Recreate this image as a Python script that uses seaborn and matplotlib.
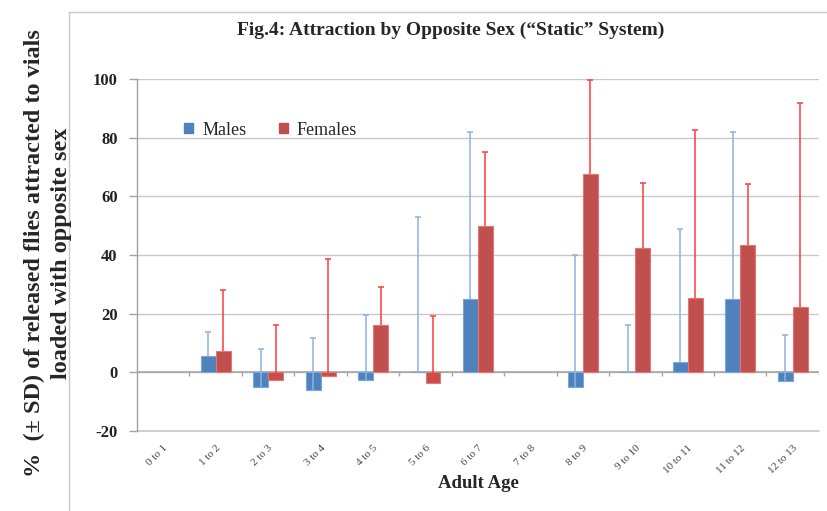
import numpy as np
import pandas as pd
import matplotlib
matplotlib.use("Agg")
import matplotlib.pyplot as plt
from matplotlib.lines import Line2D
import seaborn as sns

# Adult age intervals (days)
ages = ["0 to 1", "1 to 2", "2 to 3", "3 to 4", "4 to 5", "5 to 6", "6 to 7",
        "7 to 8", "8 to 9", "9 to 10", "10 to 11", "11 to 12", "12 to 13"]

# Mean % of released flies attracted (None = not tested)
males = [None, 5.7, -5.1, -5.9, -2.5, 0.0, 25.0, None, -5.1, 0.0, 3.5, 25.0, -3.1]
females = [None, 7.2, -2.5, -1.1, 16.0, -3.8, 50.0, None, 67.5, 42.5, 25.4, 43.3, 22.2]

# Standard deviations
males_sd = [None, 8.0, 13.0, 17.5, 22.0, 53.0, 57.0, None, 45.1, 16.0, 45.2, 57.0, 15.9]
females_sd = [None, 21.0, 18.8, 39.6, 13.1, 23.0, 25.0, None, 32.3, 22.0, 57.2, 20.8, 69.5]

series = ["Males", "Females"]
bar_colors = ["#4f81bd", "#c0504d"]
err_colors = ["#8db3e2", "#ff3b3b"]

df = pd.DataFrame({
    "age": ages * 2,
    "sex": [series[0]] * len(ages) + [series[1]] * len(ages),
    "value": [np.nan if v is None else v for v in males + females],
})

sns.set_theme(style="white")
plt.rcParams["font.family"] = ["Liberation Serif", "DejaVu Serif"]
plt.rcParams["axes.unicode_minus"] = False

fig = plt.figure(figsize=(8.28, 5.11), dpi=100)
ax = fig.add_axes([0.1655, 0.1566, 0.8235, 0.6888])

group_w = 0.57
sns.barplot(data=df, x="age", y="value", hue="sex", order=ages, hue_order=series,
            palette=bar_colors, width=group_w, errorbar=None, ax=ax,
            linewidth=0.8, edgecolor="white", saturation=1, zorder=2)

for p in ax.patches:
    fc = p.get_facecolor()
    p.set_edgecolor(tuple(min(1, c + 0.15) for c in fc[:3]) + (1,))

# Plus-only error bars in the style of the spreadsheet chart
offsets = [-group_w / 4, group_w / 4]
for vals, sds, off, col in zip([males, females], [males_sd, females_sd], offsets, err_colors):
    xs, lo, hi = [], [], []
    for i, (v, s) in enumerate(zip(vals, sds)):
        if v is None or s is None:
            continue
        xs.append(i + off)
        lo.append(v)
        hi.append(v + s)
    ax.vlines(xs, lo, hi, colors=col, linewidth=1.1, zorder=3)
    ax.plot(xs, hi, ls="none", marker="_", ms=5, mew=1.1, color=col, zorder=3)

ax.set_xlim(-0.5, len(ages) - 0.5)
ax.set_ylim(-20, 100)
ax.set_yticks(np.arange(-20, 101, 20))
ax.yaxis.grid(True, color="#c8c8c8", linewidth=1.0)
ax.axhline(-20, color="#c8c8c8", linewidth=1.2, clip_on=False, zorder=1)
ax.set_axisbelow(True)
for s in ["top", "right", "bottom"]:
    ax.spines[s].set_visible(False)
ax.spines["left"].set_color("#a0a0a0")
ax.spines["left"].set_linewidth(1.0)

# Category axis drawn along zero, with boundary ticks
ax.axhline(0, color="#a6a6a6", linewidth=1.2, zorder=1.5)
ax.vlines(np.arange(0.5, len(ages) - 0.5 + 1e-9, 1.0), -1.3, 0, colors="#a6a6a6",
          linewidth=1.0, zorder=1.5)

ax.tick_params(axis="y", which="both", left=True, length=6, width=1, color="#a0a0a0",
               labelsize=12, pad=8, labelcolor="#222222")
ax.tick_params(axis="x", length=0, pad=9)
ax.set_xticks(range(len(ages)))
ax.set_xticklabels(ages, rotation=45, ha="right", rotation_mode="anchor",
                   fontsize=8, color="#444444")
for lbl in ax.get_yticklabels():
    lbl.set_fontweight("bold")

ax.set_xlabel("Adult Age", fontsize=13.5, fontweight="bold", labelpad=0)
ax.set_ylabel("")

fig.text(0.544, 0.94, "Fig.4: Attraction by Opposite Sex (\u201cStatic\u201d System)",
         ha="center", va="center", fontsize=14, fontweight="bold")
fig.text(0.058, 0.505, "%  (\u00b1 SD) of released flies attracted to vials\nloaded with opposite sex",
         ha="center", va="center", rotation=90, fontsize=17.5, fontweight="bold",
         linespacing=1.35)

handles = [plt.Rectangle((0, 0), 1, 1, color=c) for c in bar_colors]
leg = ax.legend(handles, series, loc="upper left", bbox_to_anchor=(0.045, 0.925),
                ncol=2, frameon=False, fontsize=13, handlelength=0.5, handleheight=0.5,
                handletextpad=0.5, columnspacing=1.8)

# Chart-area border
fig.add_artist(Line2D([0.0833, 0.0833], [0.0, 0.9765], color="#c8c8c8", linewidth=1.0))
fig.add_artist(Line2D([0.0833, 1.0], [0.9765, 0.9765], color="#c8c8c8", linewidth=1.0))

fig.savefig("out.png", dpi=100)
